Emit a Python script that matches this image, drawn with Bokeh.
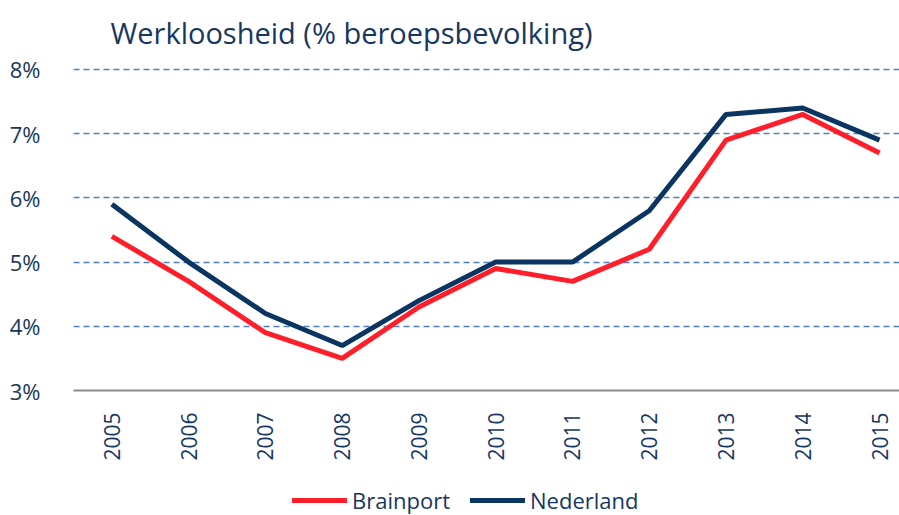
from bokeh.plotting import figure
from bokeh.models import (Range1d, FixedTicker, Legend, LegendItem,
                          CustomJSTickFormatter)
from bokeh.layouts import column
from bokeh.embed import file_html
from bokeh.resources import INLINE
import math

years = [2005, 2006, 2007, 2008, 2009, 2010, 2011, 2012, 2013, 2014, 2015]
brainport = [5.4, 4.7, 3.9, 3.5, 4.3, 4.9, 4.7, 5.2, 6.9, 7.3, 6.7]
nederland = [5.9, 5.0, 4.2, 3.7, 4.4, 5.0, 5.0, 5.8, 7.3, 7.4, 6.9]
y_ticks = [3, 4, 5, 6, 7, 8]
series_names = ["Brainport", "Nederland"]
title_text = "Werkloosheid (% beroepsbevolking)"

FONT = "Open Sans"
TXT = "#17375E"
RED = "#FF1F2A"
NAVY = "#0A3560"

p = figure(width=899, height=480, output_backend="svg", toolbar_location=None,
           x_range=Range1d(2004.5, 2015.26), y_range=Range1d(3, 8.14),
           min_border_left=73, min_border_right=0, min_border_top=60,
           min_border_bottom=90, title=title_text)
p.outline_line_color = None
p.background_fill_color = "white"

p.title.text_font = FONT
p.title.text_font_size = "29px"
p.title.text_font_style = "normal"
p.title.text_color = TXT
p.title.align = "left"
p.title.offset = 37
p.title.standoff = 17

p.line(years, brainport, line_color=RED, line_width=5)
p.line(years, nederland, line_color=NAVY, line_width=5)

# y axis
p.yaxis.ticker = FixedTicker(ticks=y_ticks)
p.yaxis.formatter = CustomJSTickFormatter(code="return tick.toFixed(0) + '%';")
p.yaxis.axis_line_color = None
p.yaxis.major_tick_line_color = None
p.yaxis.minor_tick_line_color = None
p.yaxis.major_label_text_font = FONT
p.yaxis.major_label_text_font_size = "22px"
p.yaxis.major_label_text_color = TXT
p.yaxis.major_label_standoff = 27

# x axis
p.xaxis.ticker = FixedTicker(ticks=years)
p.xaxis.axis_line_color = "#8C8C8C"
p.xaxis.axis_line_width = 2
p.xaxis.major_tick_line_color = None
p.xaxis.minor_tick_line_color = None
p.xaxis.major_label_orientation = math.pi / 2
p.xaxis.major_label_text_font = FONT
p.xaxis.major_label_text_font_size = "21px"
p.xaxis.major_label_text_color = TXT
p.xaxis.major_label_standoff = 16

p.xgrid.grid_line_color = None
p.ygrid.ticker = FixedTicker(ticks=[4, 5, 6, 7, 8])
p.ygrid.grid_line_color = "#4F7FC0"
p.ygrid.grid_line_width = 1.3
p.ygrid.grid_line_dash = "6 4"

# legend strip (series lines drawn outside its visible range; only the legend shows)
lg = figure(width=899, height=35, output_backend="svg", toolbar_location=None,
            min_border=0, x_axis_type=None, y_axis_type=None,
            x_range=Range1d(0, 1), y_range=Range1d(0, 1))
lg.outline_line_color = None
lg.grid.grid_line_color = None
l1 = lg.line(years, brainport, line_color=RED, line_width=5, line_cap="round")
l2 = lg.line(years, nederland, line_color=NAVY, line_width=5, line_cap="round")
legend = Legend(items=[LegendItem(label=series_names[0], renderers=[l1]),
                       LegendItem(label=series_names[1], renderers=[l2])],
                orientation="horizontal", location=(219, 0),
                glyph_width=55, glyph_height=20, label_standoff=5,
                spacing=20, padding=0, margin=0,
                label_text_font=FONT, label_text_font_size="22px",
                label_text_color=TXT, border_line_color=None,
                background_fill_alpha=0)
lg.add_layout(legend, "center")

layout = column(p, lg, spacing=0)
open("out.html", "w").write(file_html(layout, INLINE))
